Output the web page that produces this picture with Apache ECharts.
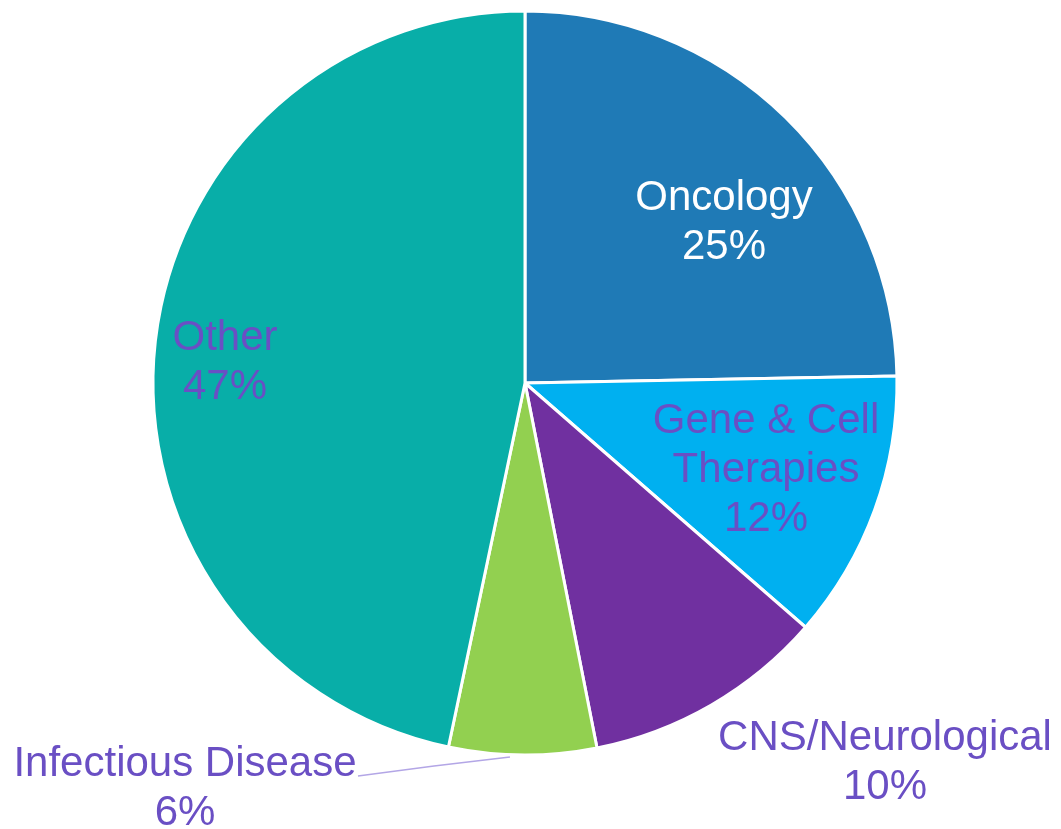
<!DOCTYPE html>
<html>
<head>
<meta charset="utf-8">
<script src="https://cdn.jsdelivr.net/npm/echarts@6/dist/echarts.min.js"></script>
<style>
  html, body { margin: 0; padding: 0; background: #ffffff; }
  #chart { width: 1061px; height: 829px; }
</style>
</head>
<body>
<div id="chart"></div>
<script>
  // slices, clockwise from 12 o'clock
  var categories = ['Oncology', 'Gene & Cell\nTherapies', 'CNS/Neurological', 'Infectious Disease', 'Other'];
  // shares as measured from the slice angles
  var shares = [24.7, 11.7, 10.5, 6.4, 46.7];
  // the rounded percentages printed on the chart
  var pctLabels = ['25%', '12%', '10%', '6%', '47%'];
  var colors = ['#1f7ab6', '#00b0f0', '#7030a0', '#92d050', '#08aea8'];

  // where each label block sits (centre of the text block)
  var labelSpots = [[724, 223], [766, 470], [885, 763], [185, 789], [225, 363]];

  var purple = '#6a4fc4';

  var chart = echarts.init(document.getElementById('chart'));

  var pieData = categories.map(function (name, i) {
    var item = {
      name: name,
      value: shares[i],
      itemStyle: { color: colors[i] }
    };
    if (i === 0) {
      item.label = { color: '#ffffff' };
    }
    if (i === 3) {
      item.label = { position: 'outside' };
      item.labelLine = { show: true, lineStyle: { color: '#b3a6e6', width: 1.5 } };
    }
    return item;
  });

  chart.setOption({
    animation: false,
    backgroundColor: '#ffffff',
    series: [{
      type: 'pie',
      center: [525, 383],
      radius: 372,
      startAngle: 90,
      clockwise: true,
      avoidLabelOverlap: false,
      data: pieData,
      itemStyle: { borderColor: '#ffffff', borderWidth: 3 },
      label: {
        show: true,
        position: 'inside',
        formatter: function (p) {
          return p.name + '\n' + pctLabels[p.dataIndex];
        },
        fontFamily: 'Liberation Sans, Arial, sans-serif',
        fontSize: 42,
        lineHeight: 49,
        color: purple,
        align: 'center'
      },
      labelLine: { show: false },
      labelLayout: function (params) {
        var p = labelSpots[params.dataIndex];
        var out = { x: p[0], y: p[1], align: 'center', verticalAlign: 'middle' };
        if (params.dataIndex === 3) {
          out.labelLinePoints = [[510, 757], [434, 766], [358, 776]];
        }
        return out;
      }
    }]
  });
</script>
</body>
</html>
